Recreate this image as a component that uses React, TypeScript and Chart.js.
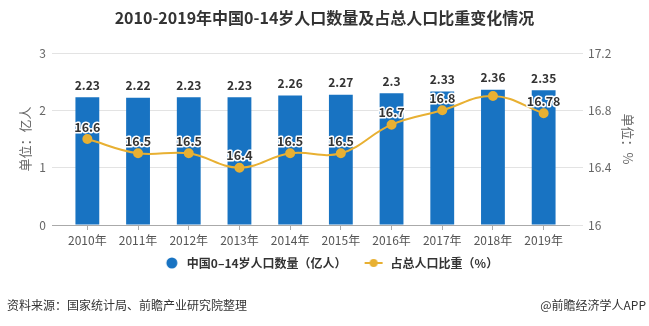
import React, { useEffect, useRef } from "react";
import { Chart, registerables } from "chart.js";

Chart.register(...registerables);

const titleText = "2010-2019年中国0-14岁人口数量及占总人口比重变化情况";
const years = ["2010年", "2011年", "2012年", "2013年", "2014年", "2015年", "2016年", "2017年", "2018年", "2019年"];
const population = [2.23, 2.22, 2.23, 2.23, 2.26, 2.27, 2.3, 2.33, 2.36, 2.35];
const share = [16.6, 16.5, 16.5, 16.4, 16.5, 16.5, 16.7, 16.8, 16.9, 16.78];
const seriesNames = ["中国0–14岁人口数量（亿人）", "占总人口比重（%）"];
const leftTicks = { min: 0, max: 3, step: 1 };
const rightTicks = { min: 16, max: 17.2, step: 0.4 };
const leftTitle = "单位：亿人";
const rightTitle = "单位：%";
const sourceText = "资料来源：国家统计局、前瞻产业研究院整理";
const brandText = "@前瞻经济学人APP";

const BLUE = "#1873C2";
const ORANGE = "#E8B032";
const FONT = "'Noto Sans CJK SC', 'Noto Sans', sans-serif";

function makeMarker(kind: "circle" | "line") {
  const c = document.createElement("canvas");
  c.width = 30;
  c.height = 12;
  const g = c.getContext("2d")!;
  if (kind === "circle") {
    g.fillStyle = BLUE;
    g.beginPath();
    g.arc(21, 6, 5.5, 0, Math.PI * 2);
    g.fill();
  } else {
    g.strokeStyle = ORANGE;
    g.lineWidth = 2;
    g.beginPath();
    g.moveTo(10, 6);
    g.lineTo(28, 6);
    g.stroke();
    g.fillStyle = ORANGE;
    g.beginPath();
    g.arc(19, 6, 4, 0, Math.PI * 2);
    g.fill();
  }
  return c;
}

const valueLabels = {
  id: "valueLabels",
  afterDatasetsDraw(chart: any) {
    const ctx = chart.ctx as CanvasRenderingContext2D;
    const barMeta = chart.getDatasetMeta(0);
    const lineMeta = chart.getDatasetMeta(1);
    ctx.save();
    ctx.textAlign = "center";
    ctx.textBaseline = "middle";
    ctx.font = `bold 12px ${FONT}`;
    ctx.fillStyle = "#333";
    const barLabelY: number[] = [];
    barMeta.data.forEach((el: any, i: number) => {
      const y = el.y - 12;
      barLabelY.push(y);
      ctx.fillText(String(population[i]), el.x, y);
    });
    ctx.font = `bold 12.5px ${FONT}`;
    ctx.lineJoin = "round";
    ctx.lineWidth = 3;
    ctx.strokeStyle = "#fff";
    lineMeta.data.forEach((el: any, i: number) => {
      const y = el.y - 12;
      if (Math.abs(y - barLabelY[i]) < 11) return; // hide overlapping label
      const t = String(share[i]);
      ctx.strokeText(t, el.x, y);
      ctx.fillText(t, el.x, y);
    });
    ctx.restore();
  },
};

function fmt(v: number) {
  return String(Number(v.toFixed(1)));
}

export default function App() {
  const ref = useRef<HTMLCanvasElement>(null);
  useEffect(() => {
    const markers = [makeMarker("circle"), makeMarker("line")];
    const chart = new Chart(ref.current!, {
      type: "bar",
      data: {
        labels: years,
        datasets: [
          {
            type: "bar",
            label: seriesNames[0],
            data: population,
            backgroundColor: BLUE,
            yAxisID: "y",
            barPercentage: 0.94,
            categoryPercentage: 0.5,
            order: 1,
          },
          {
            type: "line",
            label: seriesNames[1],
            data: share,
            borderColor: ORANGE,
            backgroundColor: ORANGE,
            borderWidth: 2,
            pointRadius: 4,
            pointBackgroundColor: ORANGE,
            pointBorderColor: ORANGE,
            tension: 0.4,
            yAxisID: "y1",
            order: 0,
          } as any,
        ],
      },
      options: {
        responsive: false,
        animation: false,
        layout: { padding: { top: 53, bottom: 47, left: 0, right: 0 } },
        plugins: {
          tooltip: { enabled: false },
          legend: {
            position: "bottom",
            labels: {
              usePointStyle: true,
              pointStyleWidth: 30,
              padding: 8,
              color: "#333",
              font: { family: FONT, size: 12, weight: "bold" },
              generateLabels: () =>
                seriesNames.map((n, i) => ({
                  text: n,
                  pointStyle: markers[i],
                  datasetIndex: i,
                  fillStyle: i === 0 ? BLUE : ORANGE,
                  strokeStyle: "transparent",
                  lineWidth: 0,
                  hidden: false,
                  fontColor: "#333",
                })) as any,
            },
          },
        },
        scales: {
          x: {
            offset: true,
            afterFit: (s: any) => {
              s.height = 24;
            },
            grid: {
              display: true,
              drawOnChartArea: false,
              drawTicks: true,
              tickLength: 5,
              offset: false,
              color: "#aaa",
            },
            border: { display: true, color: "#aaa" },
            ticks: { color: "#555", padding: 3, font: { family: FONT, size: 12 } },
          },
          y: {
            position: "left",
            min: leftTicks.min,
            max: leftTicks.max,
            afterFit: (s: any) => {
              s.width = 62;
            },
            ticks: {
              stepSize: leftTicks.step,
              color: "#666",
              padding: 6,
              font: { family: FONT, size: 12 },
              callback: (v: any) => fmt(Number(v)),
            },
            grid: {
              color: (c: any) => (c.tick && c.tick.value === 0 ? "#aaa" : "#e3e3e3"),
              tickLength: 10,
            },
            border: { display: false },
            title: {
              display: true,
              text: leftTitle,
              color: "#666",
              padding: { top: 17, bottom: 0 },
              font: { family: FONT, size: 13 },
            },
          },
          y1: {
            position: "right",
            min: rightTicks.min,
            max: rightTicks.max,
            afterFit: (s: any) => {
              s.width = 80;
            },
            ticks: {
              stepSize: rightTicks.step,
              color: "#666",
              padding: 5,
              font: { family: FONT, size: 12 },
              callback: (v: any) => fmt(Number(v)),
            },
            grid: { drawOnChartArea: false, color: "#e3e3e3", tickLength: 14 },
            border: { display: false },
            title: {
              display: true,
              text: rightTitle,
              color: "#666",
              padding: { top: 13, bottom: 0 },
              font: { family: FONT, size: 13 },
            },
          },
        },
      },
      plugins: [valueLabels],
    });
    return () => chart.destroy();
  }, []);

  return (
    <div
      style={{
        position: "fixed",
        left: 0,
        top: 0,
        width: 649,
        height: 326,
        background: "#fff",
        fontFamily: FONT,
        overflow: "hidden",
      }}
    >
      <div
        style={{
          position: "absolute",
          top: 7,
          left: 0,
          width: 649,
          textAlign: "center",
          fontSize: 16,
          fontWeight: "bold",
          color: "#333",
          lineHeight: "20px",
        }}
      >
        {titleText}
      </div>
      <canvas ref={ref} width={649} height={326} style={{ display: "block" }} />
      <div style={{ position: "absolute", left: 7, top: 297, fontSize: 12, color: "#333", lineHeight: "16px" }}>
        {sourceText}
      </div>
      <div style={{ position: "absolute", right: 3, top: 297, fontSize: 12, color: "#333", lineHeight: "16px" }}>
        {brandText}
      </div>
    </div>
  );
}
